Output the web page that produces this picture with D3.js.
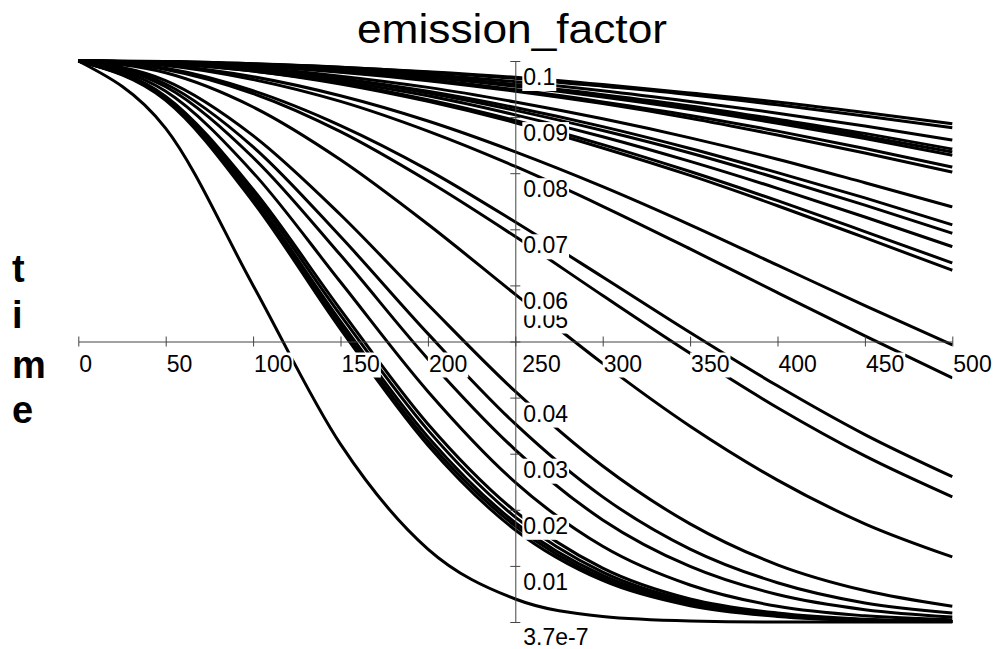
<!DOCTYPE html>
<html>
<head>
<meta charset="utf-8">
<script src="https://cdn.jsdelivr.net/npm/d3@7"></script>
<style>
  body { margin: 0; background: #fff; }
  svg { display: block; font-family: "Liberation Sans", Arial, Helvetica, sans-serif; }
</style>
</head>
<body>
<svg id="chart" width="995" height="649"></svg>
<script>
// sample times along the x axis
const times = [0, 50, 100, 150, 200, 250, 300, 350, 400, 450, 500];

// slow decaying curves (top bundle)
const upperCurves = [
  [0.1, 0.0999, 0.0995, 0.0989, 0.0981, 0.0971, 0.0958, 0.0943, 0.0927, 0.0908, 0.0888],
  [0.1, 0.0999, 0.0995, 0.0989, 0.0980, 0.0969, 0.0955, 0.0940, 0.0922, 0.0902, 0.0881],
  [0.1, 0.0998, 0.0994, 0.0986, 0.0976, 0.0963, 0.0947, 0.0928, 0.0907, 0.0884, 0.0859],
  [0.1, 0.0998, 0.0993, 0.0985, 0.0973, 0.0958, 0.0940, 0.0920, 0.0896, 0.0871, 0.0843],
  [0.1, 0.0998, 0.0993, 0.0984, 0.0972, 0.0957, 0.0938, 0.0917, 0.0893, 0.0866, 0.0838],
  [0.1, 0.0998, 0.0993, 0.0984, 0.0971, 0.0955, 0.0936, 0.0914, 0.0889, 0.0862, 0.0832],
  [0.1, 0.0998, 0.0992, 0.0981, 0.0967, 0.0949, 0.0927, 0.0903, 0.0875, 0.0844, 0.0811],
  [0.1, 0.0998, 0.0991, 0.0980, 0.0965, 0.0946, 0.0924, 0.0898, 0.0868, 0.0836, 0.0802]
];

// the next group ending between 0.075 and 0.01
const middleCurves = [
  [0.1, 0.0997, 0.0988, 0.0973, 0.0953, 0.0927, 0.0897, 0.0863, 0.0825, 0.0783, 0.0740],
  [0.1, 0.0997, 0.0986, 0.0969, 0.0946, 0.0917, 0.0883, 0.0844, 0.0801, 0.0756, 0.0708],
  [0.1, 0.0996, 0.0985, 0.0968, 0.0943, 0.0912, 0.0876, 0.0836, 0.0791, 0.0743, 0.0693],
  [0.1, 0.0996, 0.0984, 0.0964, 0.0938, 0.0904, 0.0865, 0.0821, 0.0773, 0.0722, 0.0669],
  [0.1, 0.0996, 0.0982, 0.0961, 0.0931, 0.0894, 0.0851, 0.0803, 0.0751, 0.0696, 0.0640],
  [0.1, 0.0995, 0.0982, 0.0959, 0.0928, 0.0890, 0.0845, 0.0796, 0.0742, 0.0685, 0.0627],
  [0.1, 0.0993, 0.0972, 0.0938, 0.0893, 0.0838, 0.0776, 0.0708, 0.0636, 0.0564, 0.0494],
  [0.1, 0.0992, 0.0967, 0.0928, 0.0875, 0.0812, 0.0741, 0.0665, 0.0587, 0.0510, 0.0435],
  [0.1, 0.0987, 0.0947, 0.0885, 0.0806, 0.0713, 0.0615, 0.0516, 0.0421, 0.0334, 0.0259],
  [0.1, 0.0985, 0.0942, 0.0874, 0.0786, 0.0687, 0.0582, 0.0479, 0.0382, 0.0296, 0.0223],
  [0.1, 0.0979, 0.0918, 0.0824, 0.0709, 0.0584, 0.0461, 0.0349, 0.0253, 0.0175, 0.0116]
];

// fast curves that reach zero before the end
const lowerCurves = [
  [0.1, 0.0965, 0.0867, 0.0726, 0.0566, 0.0411, 0.0278, 0.0175, 0.0102, 0.0056, 0.0028],
  [0.1, 0.0959, 0.0847, 0.0687, 0.0514, 0.0353, 0.0223, 0.0130, 0.0070, 0.0034, 0.0016],
  [0.1, 0.0954, 0.0828, 0.0654, 0.0469, 0.0307, 0.0182, 0.0099, 0.0049, 0.0022, 0.0009],
  [0.1, 0.0946, 0.0801, 0.0606, 0.0411, 0.0249, 0.0135, 0.0066, 0.0028, 0.0011, 0.0004],
  [0.1, 0.0937, 0.0771, 0.0557, 0.0353, 0.0197, 0.0096, 0.0041, 0.0016, 0.0005, 0.0001],
  [0.1, 0.0935, 0.0765, 0.0547, 0.0342, 0.0187, 0.0089, 0.0037, 0.0014, 0.0004, 0.0001],
  [0.1, 0.0933, 0.0758, 0.0536, 0.0330, 0.0177, 0.0083, 0.0034, 0.0012, 0.0004, 0.0001],
  [0.1, 0.0932, 0.0754, 0.0529, 0.0322, 0.0171, 0.0078, 0.0031, 0.0011, 0.0003, 0.0001],
  [0.1, 0.0930, 0.0749, 0.0522, 0.0315, 0.0164, 0.0074, 0.0029, 0.0010, 0.0003, 0.0001],
  [0.1, 0.0880, 0.0600, 0.0317, 0.0130, 0.0041, 0.0010, 0.0002, 0.0000, 0.0000, 0.0000]
];

const xTicks = [0, 50, 100, 150, 200, 250, 300, 350, 400, 450, 500];
const yTicks = [0.05, 0.1, 0.09, 0.08, 0.07, 0.06, 0.04, 0.03, 0.02, 0.01];
const yMin = 3.7e-7;
const yMinLabel = '3.7e-7';
const xCross = 0.05;   // where the time axis crosses
const yCross = 250;    // where the value axis crosses

const svg = d3.select('#chart');

const x = d3.scaleLinear().domain([0, 500]).range([78.3, 952.3]);
const y = d3.scaleLinear().domain([0, 0.1]).range([622, 61]);

const line = d3.line()
    .x((d, i) => x(times[i]))
    .y(d => y(d))
    .curve(d3.curveMonotoneX);

svg.append('g')
    .selectAll('path')
    .data([...upperCurves, ...middleCurves, ...lowerCurves])
    .join('path')
    .attr('d', line)
    .attr('fill', 'none')
    .attr('stroke', '#000')
    .attr('stroke-width', 3);

// horizontal axis, ticks on both sides
const xAxisG = svg.append('g')
    .attr('transform', `translate(0,${y(xCross)})`)
    .call(d3.axisBottom(x).tickValues(xTicks).tickSizeOuter(0).tickFormat(''));
xAxisG.selectAll('.tick line').attr('y1', -5).attr('y2', 5);

// vertical axis
const yAxisG = svg.append('g')
    .attr('transform', `translate(${x(yCross)},0)`)
    .call(d3.axisLeft(y).tickValues([yMin, ...yTicks]).tickSizeOuter(0).tickFormat(''));
yAxisG.selectAll('.tick line').attr('x1', -5).attr('x2', 5);

svg.selectAll('.domain, .tick line').attr('stroke', '#444').attr('stroke-width', 1);

// labels sit on white boxes that hide the curves under them
const labelG = svg.append('g');
function addLabel(txt, px, py) {
    const g = labelG.append('g');
    const rect = g.append('rect').attr('fill', '#fff');
    const t = g.append('text')
        .attr('x', px)
        .attr('y', py)
        .attr('font-size', 23)
        .attr('fill', '#000')
        .text(txt);
    const b = t.node().getBBox();
    rect.attr('x', b.x - 1).attr('y', b.y + 2).attr('width', b.width + 2).attr('height', b.height - 1);
}

// 0.05 sits above the crossing and is partly hidden by the 0.06 box
addLabel('0.05', x(yCross) + 8, y(0.05) - 14);

xTicks.forEach(t => {
    const off = t === yCross ? 7 : 1;
    addLabel(String(t), x(t) + off, y(xCross) + 30);
});

yTicks.forEach(v => {
    if (v !== 0.05) addLabel(String(v), x(yCross) + 8, y(v) + 24);
});
addLabel(yMinLabel, x(yCross) + 8, y(0) + 23);

// title
svg.append('text')
    .attr('x', 512)
    .attr('y', 43)
    .attr('text-anchor', 'middle')
    .attr('font-size', 41)
    .attr('textLength', 310)
    .attr('lengthAdjust', 'spacingAndGlyphs')
    .text('emission_factor');

// vertical axis name, one letter per line
const nameLetters = ['t', 'i', 'm', 'e'];
const nameBase = [282, 328, 378, 423];
nameLetters.forEach((c, i) => {
    svg.append('text')
        .attr('x', 12)
        .attr('y', nameBase[i])
        .attr('font-size', 38)
        .attr('font-weight', 'bold')
        .text(c);
});
</script>
</body>
</html>
